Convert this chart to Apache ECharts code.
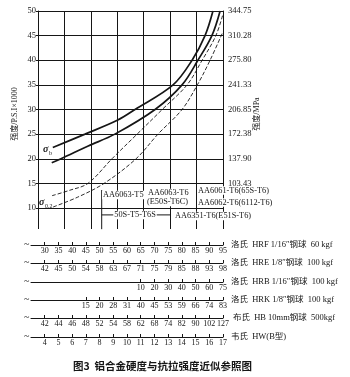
<!DOCTYPE html>
<html><head><meta charset="utf-8">
<script src="https://cdn.jsdelivr.net/npm/echarts@6/dist/echarts.min.js"></script>
<style>html,body{margin:0;padding:0;background:#fff}#c{width:350px;height:377px}</style>
</head><body><div id="c"></div>
<script>
// ---------- data ----------
const ksiLabels = ['10','15','20','25','30','35','40','45','50'];
const mpaLabels = ['103.43','137.90','172.38','206.85','241.33','275.80','310.28','344.75'];

// curves: [hardness (upper axis), strength ksi]
const sigmaBUpper = [[30.6,22.3],[42.8,25],[55,27.8],[61.7,30],[76.1,35],[83.3,40],[88.2,45],[91.2,50]];
const sigmaBLower = [[30.2,19.2],[33.7,20],[44,22.6],[54.1,25],[69.3,30],[79.5,35],[85.5,40],[90.8,45],[93.9,50]];
const sigma02Upper = [[30.3,12.5],[37,13.6],[43.9,15],[53,20],[62.5,25],[72,30],[81.4,35],[87.1,40],[92.3,45],[95,49.4]];
const sigma02Lower = [[30.7,10.2],[40,12.2],[50,15],[62.1,20],[70.4,25],[79.5,30],[85.3,35],[90.1,40],[95,45.8]];

// alloy markers
const aa6063T5Line = [[49.1,13.65],[49.1,5.7]];
const s50BracketLine = [[49.1,8.6],[75,8.6]];

// bottom scales: tick positions (HRF) and labels
const hrfPos = [30,35,40,45,50,55,60,65,70,75,80,85,90,95];
const hrfLabels = ['30','35','40','45','50','55','60','65','70','75','80','85','90','95'];
const hreLabels = ['42','45','50','54','58','63','67','71','75','79','85','88','93','98'];
const hrbPos = [65,70,75,80,85,90,95];
const hrbLabels = ['10','20','30','40','50','60','75'];
const hrkPos = [45,50,55,60,65,70,75,80,85,90,95];
const hrkLabels = ['15','20','28','31','40','45','53','59','66','74','83'];
const hbLabels = ['42','44','46','48','52','54','58','62','68','74','82','90','102','127'];
const hwLabels = ['4','5','6','7','8','9','10','11','12','13','14','15','16','17'];
const scaleNames = ['洛氏  HRF 1/16″钢球  60 kgf','洛氏  HRE 1/8″钢球  100 kgf','洛氏  HRB 1/16″钢球  100 kgf','洛氏  HRK 1/8″钢球  100 kgf','布氏  HB 10mm钢球  500kgf','韦氏  HW(B型)'];

// ---------- layout / style ----------
const INK = '#161616';
const SERIF = '"Liberation Serif","Noto Sans CJK SC",serif';
const rowY = [245,263,282,300,318,337];
const scales = [
  {pos: hrfPos, labels: hrfLabels},
  {pos: hrfPos, labels: hreLabels},
  {pos: hrbPos, labels: hrbLabels},
  {pos: hrkPos, labels: hrkLabels},
  {pos: hrfPos, labels: hbLabels},
  {pos: hrfPos, labels: hwLabels}
];

const grids = [
  {left: 38, right: 127, top: 11, height: 197},
  {left: 38, right: 127, top: 208, height: 21}
];
const xAxes = [
  {gridIndex: 0, type: 'value', min: 25, max: 95, interval: 10,
   axisLine: {show: true, lineStyle: {color: INK, width: 1}}, axisTick: {show: false}, axisLabel: {show: false},
   splitLine: {show: true, lineStyle: {color: INK, width: 1}}},
  {gridIndex: 1, type: 'value', min: 25, max: 95, interval: 10,
   axisLine: {show: false}, axisTick: {show: false}, axisLabel: {show: false},
   splitLine: {show: true, lineStyle: {color: INK, width: 1}}}
];
const yAxes = [
  {gridIndex: 0, type: 'value', min: 10, max: 50, interval: 5, position: 'left',
   axisLine: {show: true, lineStyle: {color: INK, width: 1}},
   axisTick: {show: true, length: 2, lineStyle: {color: INK}},
   axisLabel: {fontSize: 8.5, fontFamily: SERIF, color: INK, margin: 2,
     formatter: v => ksiLabels[Math.round((v - 10) / 5)]},
   splitLine: {show: true, lineStyle: {color: INK, width: 1}}},
  {gridIndex: 0, type: 'value', min: 10, max: 50, interval: 5, position: 'right',
   axisLine: {show: true, lineStyle: {color: INK, width: 1}}, axisTick: {show: false},
   axisLabel: {fontSize: 8.5, fontFamily: SERIF, color: INK, margin: 5,
     formatter: v => v >= 15 ? mpaLabels[Math.round((v - 15) / 5)] : ''},
   splitLine: {show: false}},
  {gridIndex: 1, type: 'value', min: 0, max: 1, show: false}
];
scales.forEach((s, i) => {
  grids.push({left: 31, right: 127, top: rowY[i] - 10, height: 10});
  xAxes.push({gridIndex: i + 2, type: 'value', min: 25, max: 95, position: 'bottom',
    axisLine: {show: true, lineStyle: {color: INK, width: 1}},
    axisTick: {show: true, inside: true, length: 3, customValues: s.pos, lineStyle: {color: INK, width: 1}},
    axisLabel: {customValues: s.pos, fontSize: 8, fontFamily: SERIF, color: INK, margin: 2,
      formatter: v => { const k = s.pos.indexOf(v); return k >= 0 ? s.labels[k] : ''; }},
    splitLine: {show: false},
    name: scaleNames[i], nameLocation: 'end', nameGap: 6,
    nameTextStyle: {fontSize: 8.5, fontFamily: SERIF, color: INK, align: 'left', verticalAlign: 'middle'}});
  yAxes.push({gridIndex: i + 2, type: 'value', min: 0, max: 1, show: false});
});

function curve(data, dashed) {
  return {type: 'line', xAxisIndex: 0, yAxisIndex: 0, data: data, smooth: 0.35, symbol: 'none',
    silent: true, z: 5,
    lineStyle: dashed ? {color: INK, width: 0.9, type: [4, 2]} : {color: INK, width: 1.7}};
}
function marker(data) {
  return {type: 'line', xAxisIndex: 0, yAxisIndex: 0, data: data, symbol: 'none', clip: false, silent: true,
    z: 4, lineStyle: {color: INK, width: 1}};
}

function txt(x, y, s, size, extra) {
  return {type: 'text', x: x, y: y, z: 100, silent: true,
    style: Object.assign({text: s, fill: INK, font: size + 'px ' + SERIF,
      textAlign: 'left', textVerticalAlign: 'middle', align: 'left', verticalAlign: 'middle'}, extra || {})};
}
const white = {backgroundColor: '#fff', padding: [0, 1]};
const graphics = [
  Object.assign(txt(15, 114, '强度/P.S.I×1000', 8, {textAlign: 'center', align: 'center'}), {rotation: Math.PI / 2}),
  Object.assign(txt(257, 114, '强度/MPa', 8, {textAlign: 'center', align: 'center'}), {rotation: Math.PI / 2}),
  txt(43, 149, 'σ', 10, {font: 'italic bold 10px ' + SERIF}),
  txt(49, 153, 'b', 6),
  txt(39, 202, 'σ', 10, {font: 'italic bold 10px ' + SERIF}),
  txt(45, 206, '0.2', 6),
  txt(102, 195, 'AA6063-T5', 8.3, white),
  txt(147, 193, 'AA6063-T6', 8.3, white),
  txt(146, 202, '(E50S-T6C)', 8.3, white),
  txt(197, 190.5, 'AA6061-T6(65S-T6)', 8.3, {backgroundColor: '#fff', padding: [0, 1, 0, 1]}),
  txt(197, 202.5, 'AA6062-T6(6112-T6)', 8.3, white),
  txt(135, 215, '50S-T5-T6S', 8.3, Object.assign({textAlign: 'center', align: 'center'}, white)),
  txt(174, 216, 'AA6351-T6(E51S-T6)', 8.3, white),
  txt(73, 366, '图3  铝合金硬度与抗拉强度近似参照图', 10.5, {font: 'bold 10.5px "Noto Sans CJK SC",sans-serif'})
];
rowY.forEach(y => graphics.push(txt(24, y - 1, '~', 10)));

const chart = echarts.init(document.getElementById('c'), null, {renderer: 'canvas'});
chart.setOption({
  animation: false,
  backgroundColor: '#fff',
  grid: grids,
  xAxis: xAxes,
  yAxis: yAxes,
  series: [
    curve(sigmaBUpper, false), curve(sigmaBLower, false),
    curve(sigma02Upper, true), curve(sigma02Lower, true),
    marker(aa6063T5Line), marker(s50BracketLine)
  ],
  graphic: graphics
});
</script></body></html>
